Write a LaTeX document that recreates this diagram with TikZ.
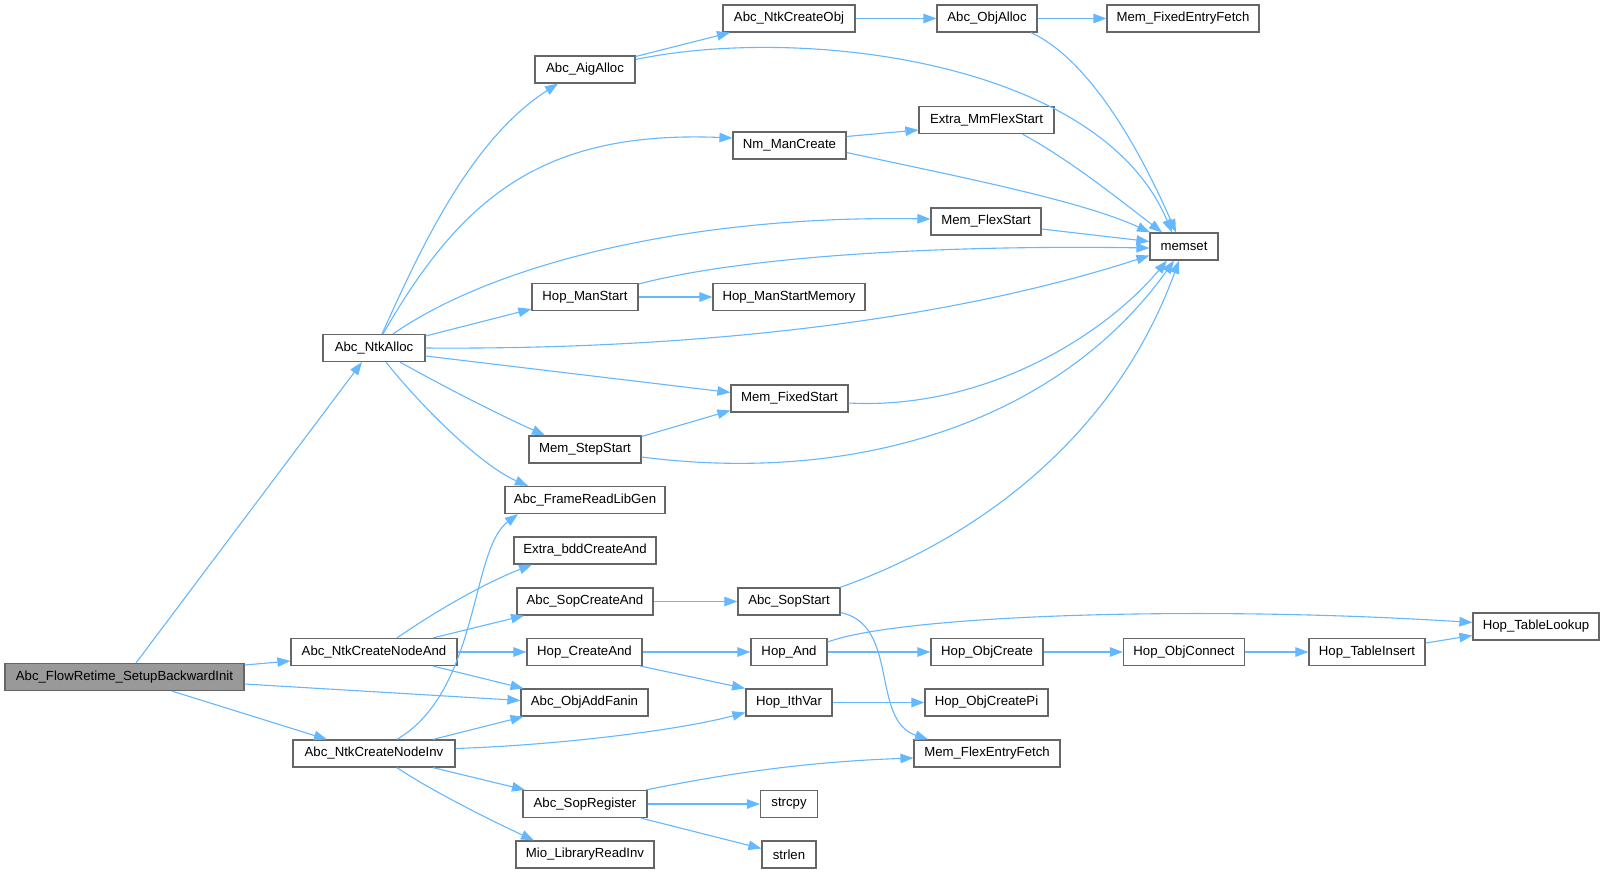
\documentclass[tikz,border=0pt]{standalone}
\usepackage{fontspec}
\setmainfont{Liberation Sans}
\usetikzlibrary{arrows.meta,calc}
\definecolor{edgeblue}{HTML}{63B8FF}
\definecolor{boxgray}{HTML}{666666}
\definecolor{rootfill}{HTML}{999999}
\begin{document}
\begin{tikzpicture}[x=1bp,y=-1bp,
  fn/.style={draw=boxgray, fill=white, line width=1.2bp, inner sep=0pt, minimum height=27bp, font=\fontsize{13.2bp}{15bp}\selectfont, text=black},
  rootfn/.style={fn, fill=rootfill},
  call/.style={draw=edgeblue, line width=1.1bp, -{Triangle[length=13bp,width=9.5bp]}},
]
\useasboundingbox[fill=white] (0,0) rectangle (1604,873);

% nodes
\node[rootfn, minimum width=239bp] (r) at (124.5,677) {Abc\_FlowRetime\_SetupBackwardInit};
\node[fn, minimum width=102bp] (na) at (374,348) {Abc\_NtkAlloc};
\node[fn, minimum width=166bp] (and) at (374,652) {Abc\_NtkCreateNodeAnd};
\node[fn, minimum width=162bp] (inv) at (374,753.5) {Abc\_NtkCreateNodeInv};
\node[fn, minimum width=100bp] (aig) at (585,69.5) {Abc\_AigAlloc};
\node[fn, minimum width=132bp] (nco) at (789,18.5) {Abc\_NtkCreateObj};
\node[fn, minimum width=100bp] (oa) at (987,18.5) {Abc\_ObjAlloc};
\node[fn, minimum width=152bp] (mfef) at (1183,18.5) {Mem\_FixedEntryFetch};
\node[fn, minimum width=113bp] (nm) at (789.5,145.5) {Nm\_ManCreate};
\node[fn, minimum width=135bp] (emf) at (986.5,120) {Extra\_MmFlexStart};
\node[fn, minimum width=110bp] (mfs) at (986,221.5) {Mem\_FlexStart};
\node[fn, minimum width=68bp] (memset) at (1184,246.5) {memset};
\node[fn, minimum width=106bp] (hms) at (585,297) {Hop\_ManStart};
\node[fn, minimum width=152bp] (hmsm) at (789,297) {Hop\_ManStartMemory};
\node[fn, minimum width=117bp] (mfxs) at (789.5,398.5) {Mem\_FixedStart};
\node[fn, minimum width=112bp] (mss) at (585,449.5) {Mem\_StepStart};
\node[fn, minimum width=160bp] (frl) at (585,500) {Abc\_FrameReadLibGen};
\node[fn, minimum width=142bp] (eba) at (585,550.5) {Extra\_bddCreateAnd};
\node[fn, minimum width=136bp] (sca) at (585,601.5) {Abc\_SopCreateAnd};
\node[fn, minimum width=115bp] (hca) at (584.5,652) {Hop\_CreateAnd};
\node[fn, minimum width=127bp] (oaf) at (584.5,702.5) {Abc\_ObjAddFanin};
\node[fn, minimum width=124bp] (sr) at (585,804) {Abc\_SopRegister};
\node[fn, minimum width=138bp] (mlri) at (585,854.5) {Mio\_LibraryReadInv};
\node[fn, minimum width=102bp] (ss) at (789,601.5) {Abc\_SopStart};
\node[fn, minimum width=76bp] (ha) at (789,652) {Hop\_And};
\node[fn, minimum width=86bp] (hiv) at (789,702.5) {Hop\_IthVar};
\node[fn, minimum width=146bp] (mflef) at (987,753.5) {Mem\_FlexEntryFetch};
\node[fn, minimum width=57bp] (strcpy) at (789,804) {strcpy};
\node[fn, minimum width=54bp] (strlen) at (789,854.5) {strlen};
\node[fn, minimum width=112bp] (hoc) at (987,652) {Hop\_ObjCreate};
\node[fn, minimum width=123bp] (hocp) at (986.5,702.5) {Hop\_ObjCreatePi};
\node[fn, minimum width=121bp] (hocn) at (1184,652) {Hop\_ObjConnect};
\node[fn, minimum width=116bp] (hti) at (1367,652) {Hop\_TableInsert};
\node[fn, minimum width=126bp] (htl) at (1536,626.5) {Hop\_TableLookup};

% edges from root
\draw[call] ($(r.north)+(11.5,0)$) -- ($(na.south)+(-12,0)$);
\draw[call] ($(r.east)+(0,-12)$) -- ($(and.west)+(0,9)$);
\draw[call] ($(r.east)+(0,7)$) -- ($(oaf.west)+(0,-2)$);
\draw[call] ($(r.south)+(47.5,0)$) -- ($(inv.north)+(-47,0)$);

% Abc_NtkCreateNodeAnd
\draw[call] ($(and.north)+(23,0)$) .. controls (430,615) and (480,585) .. ($(eba.south)+(-53,0)$);
\draw[call] ($(and.north)+(59,0)$) -- ($(sca.south)+(-61,0)$);
\draw[call] (and.east) -- (hca.west);
\draw[call] ($(and.south)+(59,0)$) -- ($(oaf.north)+(-61,0)$);

% Abc_NtkCreateNodeInv
\draw[call] ($(inv.north)+(23,0)$) .. controls (480,690) and (470,550) .. ($(frl.south)+(-67,0)$);
\draw[call] ($(inv.north)+(59,0)$) -- ($(oaf.south)+(-61,0)$);
\draw[call] ($(inv.east)+(0,-5)$) .. controls (560,745) and (680,730) .. ($(hiv.west)+(0,10)$);
\draw[call] ($(inv.south)+(59,0)$) -- ($(sr.north)+(-60,0)$);
\draw[call] ($(inv.south)+(23,0)$) .. controls (430,790) and (490,820) .. ($(mlri.north)+(-51,0)$);

% Abc_NtkAlloc
\draw[call] ($(na.north)+(8,0)$) .. controls (420,250) and (470,140) .. ($(aig.south)+(-27,0)$);
\draw[call] ($(na.north)+(9,0)$) .. controls (460,200) and (540,130) .. ($(nm.west)+(0,-7.5)$);
\draw[call] ($(na.north)+(19,0)$) .. controls (500,260) and (700,215) .. ($(mfs.west)+(0,-2.5)$);
\draw[call] ($(na.east)+(0,-12)$) -- ($(hms.west)+(0,12)$);
\draw[call] (na.east) .. controls (700,350) and (950,320) .. ($(memset.west)+(0,9)$);
\draw[call] ($(na.east)+(0,8)$) -- ($(mfxs.west)+(0,-6)$);
\draw[call] ($(na.south)+(26,0)$) .. controls (450,390) and (500,415) .. ($(mss.north)+(-40,0)$);
\draw[call] ($(na.south)+(12,0)$) .. controls (420,405) and (480,465) .. ($(frl.north)+(-57,0)$);

% Abc_AigAlloc
\draw[call] ($(aig.east)+(0,-13)$) -- ($(nco.south)+(-59,0)$);
\draw[call] ($(aig.east)+(0,-10)$) .. controls (800,25) and (1100,60) .. ($(memset.north)+(-12,0)$);

% top row
\draw[call] (nco.east) -- (oa.west);
\draw[call] (oa.east) -- (mfef.west);
\draw[call] ($(oa.south)+(44,0)$) .. controls (1090,60) and (1140,150) .. ($(memset.north)+(-8,0)$);

% Nm_ManCreate
\draw[call] ($(nm.east)+(0,-9)$) -- ($(emf.west)+(0,10)$);
\draw[call] ($(nm.east)+(0,7)$) .. controls (950,175) and (1080,200) .. ($(memset.north)+(-34,0)$);
\draw[call] ($(emf.south)+(36,0)$) .. controls (1070,160) and (1120,200) .. ($(memset.north)+(-22,0)$);
\draw[call] ($(mfs.east)+(0,7.5)$) -- ($(memset.west)+(0,-5)$);

% Hop_ManStart
\draw[call] ($(hms.east)+(0,-13)$) .. controls (750,255) and (950,245) .. ($(memset.west)+(0,1.5)$);
\draw[call] (hms.east) -- (hmsm.west);

% Mem_FixedStart / Mem_StepStart
\draw[call] ($(mfxs.east)+(0,4.5)$) .. controls (980,410) and (1100,340) .. ($(memset.south)+(-17,0)$);
\draw[call] ($(mss.east)+(0,-13)$) -- ($(mfxs.west)+(0,12)$);
\draw[call] ($(mss.east)+(0,7.5)$) .. controls (860,485) and (1060,420) .. ($(memset.south)+(-10,0)$);

% Sop
\draw[call] (sca.east) -- (ss.west);
\draw[call] ($(ss.north)+(51,0)$) .. controls (960,545) and (1110,450) .. ($(memset.south)+(-5,0)$);
\draw[call] ($(ss.east)+(0,11)$) .. controls (900,625) and (870,720) .. ($(mflef.north)+(-59,0)$);

% Hop
\draw[call] (hca.east) -- (ha.west);
\draw[call] ($(hca.south)+(56,0)$) -- ($(hiv.north)+(-44,0)$);
\draw[call] ($(ha.east)+(0,-10)$) .. controls (900,615) and (1200,605) .. ($(htl.west)+(0,-4)$);
\draw[call] (ha.east) -- (hoc.west);
\draw[call] (hoc.east) -- (hocn.west);
\draw[call] (hocn.east) -- (hti.west);
\draw[call] ($(hti.east)+(0,-9)$) -- ($(htl.west)+(0,9)$);
\draw[call] (hiv.east) -- (hocp.west);

% Abc_SopRegister
\draw[call] ($(sr.north)+(61,0)$) .. controls (720,775) and (800,762) .. ($(mflef.west)+(0,4.5)$);
\draw[call] (sr.east) -- (strcpy.west);
\draw[call] ($(sr.south)+(56,0)$) -- ($(strlen.west)+(0,-6)$);
\end{tikzpicture}
\end{document}
